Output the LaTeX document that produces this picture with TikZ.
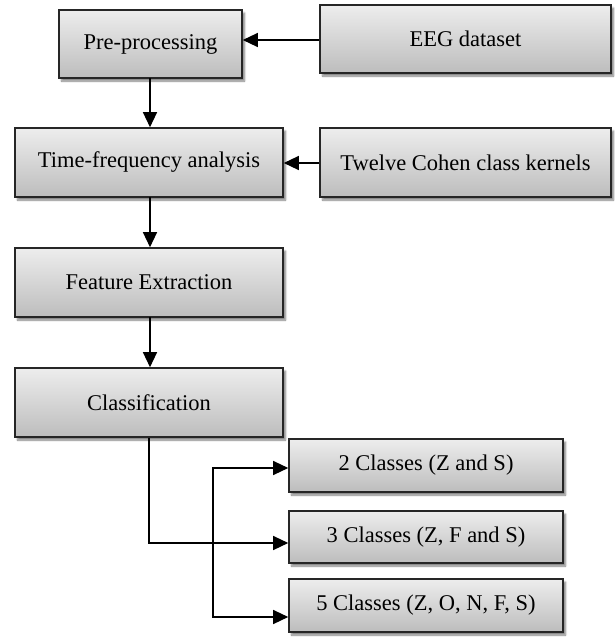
\documentclass[tikz,border=0pt]{standalone}
\usepackage{fontspec}
\setmainfont{Liberation Serif}
\usetikzlibrary{arrows.meta,shadows.blur}
\tikzset{
  block/.style={draw=black!85, line width=1.6pt, inner sep=0pt,
    top color=black!7, bottom color=black!26,
    blur shadow={shadow xshift=2.5pt, shadow yshift=-3pt, shadow blur steps=6, shadow opacity=50},
    font=\fontsize{22.5}{26}\selectfont},
  link/.style={draw=black, line width=1.3pt, -{Triangle[length=15pt,width=14pt]}},
  wire/.style={draw=black, line width=1.3pt}
}
\newcommand{\blockat}[6]{%
  \node[block, minimum width=#4-#2, minimum height=#5-#3] (#1) at ({(#2+#4)/2},{(#3+#5)/2}) {#6};}
\begin{document}
\begin{tikzpicture}[x=1pt,y=-1pt]
\useasboundingbox (0,0) rectangle (614,637);
% processing chain
\blockat{pre}{59}{10}{242}{78}{Pre-processing}
\blockat{eeg}{320}{5}{611}{73}{EEG dataset}
\blockat{tfa}{15}{128}{283}{197}{Time-frequency analysis}
\blockat{ker}{320}{128}{611}{197}{Twelve Cohen class kernels}
\blockat{fex}{15}{248}{283}{317}{Feature Extraction}
\blockat{cls}{15}{368}{283}{437}{Classification}
% outcomes
\blockat{c2}{289}{439}{563}{492}{2 Classes (Z and S)}
\blockat{c3}{289}{511}{563}{563}{3 Classes (Z, F and S)}
\blockat{c5}{289}{579}{563}{632}{5 Classes (Z, O, N, F, S)}
% connectors
\draw[link] (eeg.west |- 0,40) -- (pre.east |- 0,40);
\draw[link] (ker.west |- 0,163) -- (tfa.east |- 0,163);
\draw[link] (150,78) -- (tfa.north -| 150,0);
\draw[link] (150,197) -- (fex.north -| 150,0);
\draw[link] (150,317) -- (cls.north -| 150,0);
\coordinate (split) at (213,543);
\draw[link] (cls.south -| 149,0) |- (c3.west |- split);
\draw[link] (split) |- (c2.west |- 0,468);
\draw[link] (split) |- (c5.west |- 0,617);
\end{tikzpicture}
\end{document}
